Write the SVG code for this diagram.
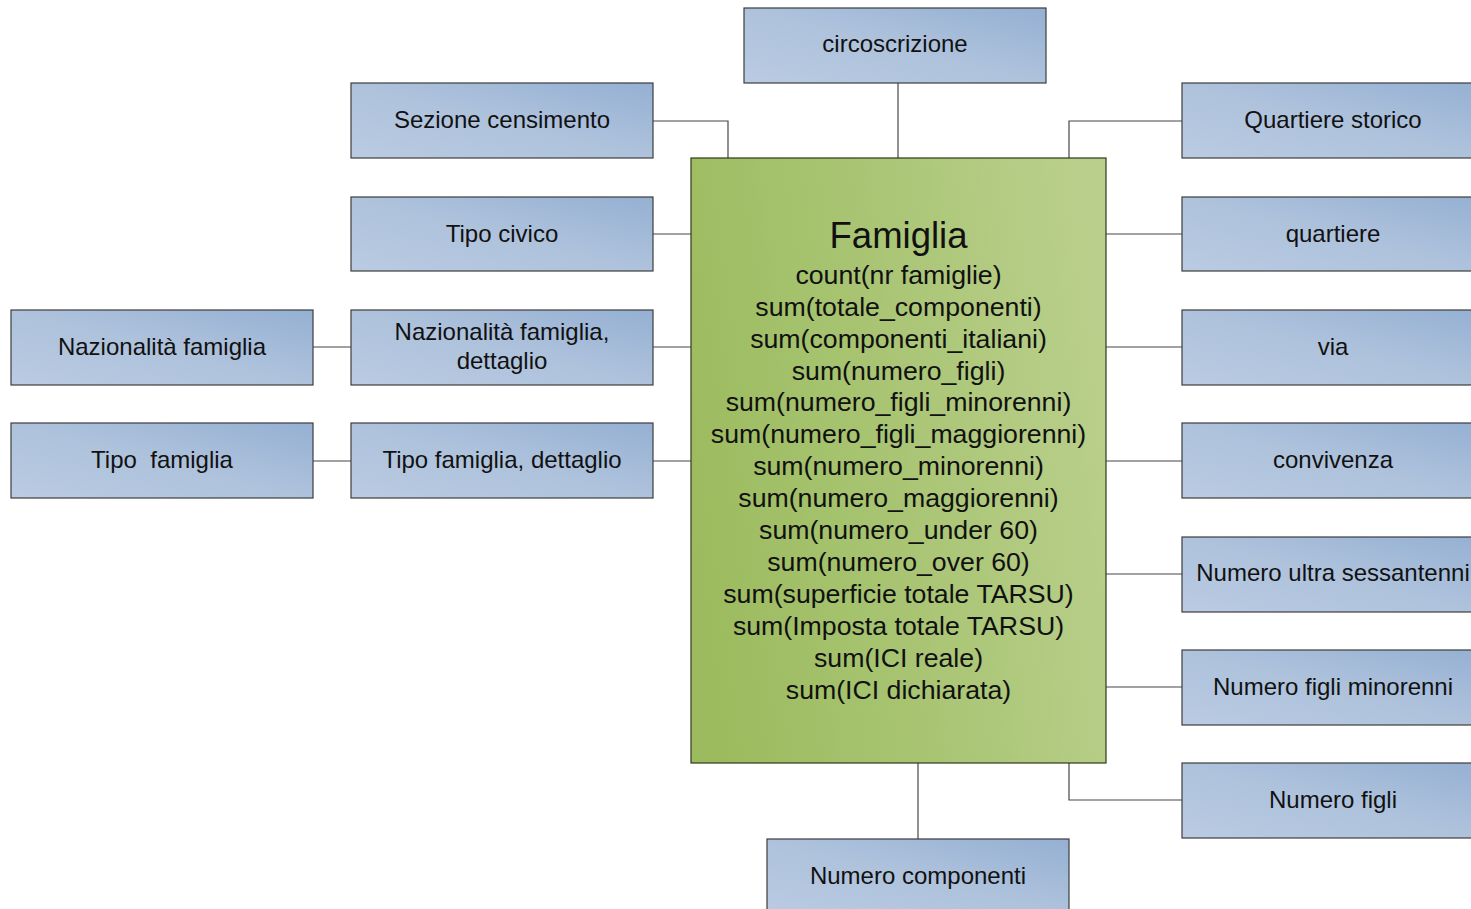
<svg xmlns="http://www.w3.org/2000/svg" width="1471" height="909" viewBox="0 0 1471 909">
  <defs>
    <linearGradient id="blueFill" x1="0" y1="1" x2="1" y2="0">
      <stop offset="0" stop-color="#bacbe2"/>
      <stop offset="0.5" stop-color="#aec2dc"/>
      <stop offset="1" stop-color="#95b0d3"/>
    </linearGradient>
    <linearGradient id="greenFill" x1="0" y1="0.6" x2="1" y2="0.4">
      <stop offset="0" stop-color="#9cbb5e"/>
      <stop offset="0.5" stop-color="#a9c574"/>
      <stop offset="1" stop-color="#b9cf8b"/>
    </linearGradient>
    <style>
      .box { fill: url(#blueFill); stroke: #3c3c3c; stroke-width: 1.2; }
      .main { fill: url(#greenFill); stroke: #2e3a1c; stroke-width: 1.2; }
      .lbl { font-family: "Liberation Sans", Arial, sans-serif; font-size: 24px; fill: #111; text-anchor: middle; }
      .title { font-family: "Liberation Sans", Arial, sans-serif; font-size: 36.5px; fill: #111; text-anchor: middle; }
      .measure { font-family: "Liberation Sans", Arial, sans-serif; font-size: 26.7px; fill: #111; text-anchor: middle; }
      .conn { fill: none; stroke: #474747; stroke-width: 1.2; }
    </style>
  </defs>
  <rect width="1471" height="909" fill="#ffffff"/>

  <!-- connectors -->
  <g id="connectors">
    <path class="conn" d="M898 83 V158"/>
    <path class="conn" d="M653 121 H728 V158"/>
    <path class="conn" d="M1182 121 H1069 V158"/>
    <path class="conn" d="M653 234 H691"/>
    <path class="conn" d="M653 347 H691"/>
    <path class="conn" d="M313 347 H351"/>
    <path class="conn" d="M653 461 H691"/>
    <path class="conn" d="M313 461 H351"/>
    <path class="conn" d="M1106 234 H1182"/>
    <path class="conn" d="M1106 347 H1182"/>
    <path class="conn" d="M1106 461 H1182"/>
    <path class="conn" d="M1106 574 H1182"/>
    <path class="conn" d="M1106 687 H1182"/>
    <path class="conn" d="M1069 763 V800 H1182"/>
    <path class="conn" d="M918 763 V839"/>
  </g>

  <!-- fact node -->
  <g id="famiglia">
    <rect class="main" x="691" y="158" width="415" height="605"/>
    <text class="title" x="898.5" y="248">Famiglia</text>
    <text class="measure" x="898.5" y="284">count(nr famiglie)</text>
    <text class="measure" x="898.5" y="316">sum(totale_componenti)</text>
    <text class="measure" x="898.5" y="348">sum(componenti_italiani)</text>
    <text class="measure" x="898.5" y="380">sum(numero_figli)</text>
    <text class="measure" x="898.5" y="411">sum(numero_figli_minorenni)</text>
    <text class="measure" x="898.5" y="443">sum(numero_figli_maggiorenni)</text>
    <text class="measure" x="898.5" y="475">sum(numero_minorenni)</text>
    <text class="measure" x="898.5" y="507">sum(numero_maggiorenni)</text>
    <text class="measure" x="898.5" y="539">sum(numero_under 60)</text>
    <text class="measure" x="898.5" y="571">sum(numero_over 60)</text>
    <text class="measure" x="898.5" y="603">sum(superficie totale TARSU)</text>
    <text class="measure" x="898.5" y="635">sum(Imposta totale TARSU)</text>
    <text class="measure" x="898.5" y="667">sum(ICI reale)</text>
    <text class="measure" x="898.5" y="699">sum(ICI dichiarata)</text>
  </g>

  <!-- dimension nodes -->
  <g id="circoscrizione">
    <rect class="box" x="744" y="8" width="302" height="75"/>
    <text class="lbl" x="895" y="52">circoscrizione</text>
  </g>
  <g id="sezione-censimento">
    <rect class="box" x="351" y="83" width="302" height="75"/>
    <text class="lbl" x="502" y="128">Sezione censimento</text>
  </g>
  <g id="tipo-civico">
    <rect class="box" x="351" y="197" width="302" height="74"/>
    <text class="lbl" x="502" y="242">Tipo civico</text>
  </g>
  <g id="nazionalita-dettaglio">
    <rect class="box" x="351" y="310" width="302" height="75"/>
    <text class="lbl" x="502" y="340">Nazionalità famiglia,</text>
    <text class="lbl" x="502" y="369">dettaglio</text>
  </g>
  <g id="tipo-famiglia-dettaglio">
    <rect class="box" x="351" y="423" width="302" height="75"/>
    <text class="lbl" x="502" y="468">Tipo famiglia, dettaglio</text>
  </g>
  <g id="nazionalita-famiglia">
    <rect class="box" x="11" y="310" width="302" height="75"/>
    <text class="lbl" x="162" y="355">Nazionalità famiglia</text>
  </g>
  <g id="tipo-famiglia">
    <rect class="box" x="11" y="423" width="302" height="75"/>
    <text class="lbl" x="162" y="468" xml:space="preserve">Tipo  famiglia</text>
  </g>
  <g id="quartiere-storico">
    <rect class="box" x="1182" y="83" width="302" height="75"/>
    <text class="lbl" x="1333" y="128">Quartiere storico</text>
  </g>
  <g id="quartiere">
    <rect class="box" x="1182" y="197" width="302" height="74"/>
    <text class="lbl" x="1333" y="242">quartiere</text>
  </g>
  <g id="via">
    <rect class="box" x="1182" y="310" width="302" height="75"/>
    <text class="lbl" x="1333" y="355">via</text>
  </g>
  <g id="convivenza">
    <rect class="box" x="1182" y="423" width="302" height="75"/>
    <text class="lbl" x="1333" y="468">convivenza</text>
  </g>
  <g id="numero-ultra-sessantenni">
    <rect class="box" x="1182" y="537" width="302" height="75"/>
    <text class="lbl" x="1333" y="581">Numero ultra sessantenni</text>
  </g>
  <g id="numero-figli-minorenni">
    <rect class="box" x="1182" y="650" width="302" height="75"/>
    <text class="lbl" x="1333" y="695">Numero figli minorenni</text>
  </g>
  <g id="numero-figli">
    <rect class="box" x="1182" y="763" width="302" height="75"/>
    <text class="lbl" x="1333" y="808">Numero figli</text>
  </g>
  <g id="numero-componenti">
    <rect class="box" x="767" y="839" width="302" height="75"/>
    <text class="lbl" x="918" y="884">Numero componenti</text>
  </g>
</svg>
